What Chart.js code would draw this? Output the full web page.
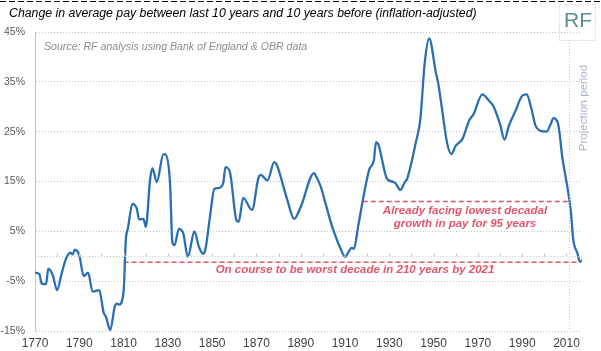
<!DOCTYPE html>
<html lang="en">
<head>
    <meta charset="UTF-8">
    <title>Change in average pay</title>
    <script src="https://cdn.jsdelivr.net/npm/chart.js@4.4.1/dist/chart.umd.min.js"></script>
    <style>
        body{
            margin: 0;
            background-color: #ffffff;
        }
        #payChart {
            display: block;
        }
    </style>
</head>
<body>
    <canvas id="payChart" width="601" height="351"></canvas>
    <script>
        // year of the 10-year window, % change vs the 10 years before
        var years = [1770, 1772, 1773, 1775, 1776, 1778, 1780, 1782, 1784, 1786, 1787, 1788, 1790,
            1792, 1794, 1796, 1799, 1801, 1802, 1804, 1806, 1807, 1808, 1810, 1811, 1812, 1814,
            1816, 1817, 1819, 1820, 1822, 1823, 1825, 1828, 1829, 1831, 1832, 1833, 1835, 1837,
            1839, 1842, 1844, 1846, 1847, 1849, 1851, 1853, 1855, 1856, 1858, 1861, 1862, 1864,
            1868, 1871, 1872, 1875, 1878, 1879, 1884, 1887, 1890, 1896, 1897, 1899, 1901, 1904,
            1905, 1908, 1910, 1913, 1914, 1916, 1919, 1921, 1923, 1924, 1925, 1929, 1932, 1933,
            1935, 1937, 1938, 1942, 1944, 1946, 1948, 1951, 1952, 1954, 1956, 1958, 1960, 1962,
            1963, 1966, 1968, 1972, 1975, 1977, 1980, 1982, 1984, 1987, 1990, 1992, 1994, 1996,
            1998, 2001, 2003, 2004, 2006, 2007, 2008, 2010, 2012, 2013, 2015, 2016, 2017];
        var pay = [-3.3, -3.6, -5.5, -5.6, -2.5, -3.8, -6.8, -3.5, -0.5, 0.7, 0.4, 1.3, 0.2,
            -4.0, -3.3, -7.1, -6.8, -11.3, -12.1, -14.8, -10.1, -9.5, -9.7, -7.1, 3.2, 5.7, 10.5,
            9.5, 7.4, 7.5, 5.9, 15.5, 17.7, 14.9, 20.5, 20.4, 14.5, 2.9, 2.2, 5.5, 4.5,
            -0.1, 5.0, 1.9, 0.5, 1.5, 7.9, 13.5, 13.7, 14.7, 17.9, 16.9, 7.2, 6.9, 11.7,
            9.3, 15.9, 16.3, 15.2, 18.9, 18.5, 11.2, 7.5, 9.9, 16.7, 16.0, 14.0, 10.9, 6.2,
            4.9, 1.5, -0.1, 1.7, 1.5, 6.2, 13.5, 17.5, 19.2, 22.9, 22.5, 15.5, 14.9, 14.5,
            13.3, 14.9, 15.5, 22.9, 27.5, 38.9, 43.7, 36.9, 34.9, 28.9, 22.9, 20.5, 22.2, 23.0,
            23.5, 27.2, 28.5, 32.5, 31.2, 30.1, 26.5, 23.4, 26.2, 29.2, 32.2, 32.5, 29.9, 26.2,
            25.2, 25.0, 26.7, 27.7, 26.9, 24.2, 20.2, 14.9, 8.9, 3.5, 0.5, -1.1, -0.8];

        var xTicks = [1770, 1790, 1810, 1830, 1850, 1870, 1890, 1910, 1930, 1950, 1970, 1990, 2010];
        var yTicks = [-15, -5, 5, 15, 25, 35, 45];

        // reference levels for the two annotations
        var lowest95Years = [1918, 2011];
        var lowest95Level = [11, 11];
        var worst210Years = [1810, 2016];
        var worst210Level = [-1.2, -1.2];
        var projectionStart = 2011;

        var FONT = '"Liberation Sans", Arial, sans-serif';
        var RED = '#e0566c';

        function pairs(xs, ys) {
            return xs.map(function(x, i) { return {x: x, y: ys[i]}; });
        }

        var extras = {
            id: 'extras',
            afterDraw: function(chart) {
                var ctx = chart.ctx;
                var xs = chart.scales.x;
                var ys = chart.scales.y;
                var area = chart.chartArea;
                ctx.save();

                // dashed top edge of the picture
                ctx.strokeStyle = '#000000';
                ctx.lineWidth = 1;
                ctx.setLineDash([6, 3]);
                ctx.beginPath();
                ctx.moveTo(0, 1.5);
                ctx.lineTo(601, 1.5);
                ctx.stroke();

                // zero line with small ticks
                var y0 = Math.round(ys.getPixelForValue(0)) + 0.5;
                ctx.strokeStyle = '#c4c4c4';
                ctx.setLineDash([1, 2]);
                ctx.beginPath();
                ctx.moveTo(area.left, y0);
                ctx.lineTo(area.right, y0);
                ctx.stroke();
                ctx.setLineDash([]);
                ctx.beginPath();
                for (var yr = 1780; yr <= 2010; yr += 10) {
                    var tx = Math.round(xs.getPixelForValue(yr)) + 0.5;
                    ctx.moveTo(tx, y0);
                    ctx.lineTo(tx, y0 - 3);
                }
                ctx.stroke();

                // projection period divider
                var px = Math.round(xs.getPixelForValue(projectionStart)) + 0.5;
                ctx.strokeStyle = '#c4c4c4';
                ctx.setLineDash([1, 2]);
                ctx.beginPath();
                ctx.moveTo(px, 40);
                ctx.lineTo(px, area.bottom);
                ctx.stroke();

                // RF box
                ctx.strokeStyle = '#a9c6c6';
                ctx.strokeRect(559.5, 4.5, 36, 36);
                ctx.setLineDash([]);
                ctx.fillStyle = '#5a8f8f';
                ctx.font = '21px ' + FONT;
                ctx.textAlign = 'center';
                ctx.textBaseline = 'middle';
                ctx.fillText('RF', 578, 21);

                // projection label
                ctx.save();
                ctx.translate(584, 108);
                ctx.rotate(-Math.PI / 2);
                ctx.fillStyle = '#aab3c6';
                ctx.font = '11.5px ' + FONT;
                ctx.fillText('Projection period', 0, 0);
                ctx.restore();

                // title and source
                ctx.textAlign = 'left';
                ctx.fillStyle = '#000000';
                ctx.font = 'italic 12.3px ' + FONT;
                ctx.fillText('Change in average pay between last 10 years and 10 years before (inflation-adjusted)', 9, 14);
                ctx.fillStyle = '#8c8c8c';
                ctx.font = 'italic 10.6px ' + FONT;
                ctx.fillText('Source: RF analysis using Bank of England & OBR data', 44, 47);

                // annotation texts
                ctx.fillStyle = RED;
                ctx.font = 'italic bold 11.5px ' + FONT;
                ctx.textAlign = 'center';
                ctx.fillText('Already facing lowest decadal', 465, 211);
                ctx.fillText('growth in pay for 95 years', 465, 224);
                ctx.fillText('On course to be worst decade in 210 years by 2021', 355, 270);

                ctx.restore();
            }
        };

        new Chart(document.getElementById('payChart'), {
            type: 'line',
            data: {
                datasets: [{
                    data: pairs(years, pay),
                    borderColor: '#2b6fb3',
                    borderWidth: 2.3,
                    pointRadius: 0,
                    cubicInterpolationMode: 'monotone'
                }, {
                    data: pairs(lowest95Years, lowest95Level),
                    borderColor: RED,
                    borderWidth: 1.5,
                    borderDash: [5, 3],
                    pointRadius: 0
                }, {
                    data: pairs(worst210Years, worst210Level),
                    borderColor: RED,
                    borderWidth: 1.5,
                    borderDash: [5, 3],
                    pointRadius: 0
                }]
            },
            options: {
                responsive: false,
                animation: false,
                devicePixelRatio: 1,
                layout: {
                    padding: {top: 32, right: 19, left: 0, bottom: 0}
                },
                plugins: {
                    legend: {display: false},
                    tooltip: {enabled: false}
                },
                scales: {
                    x: {
                        type: 'linear',
                        min: 1770,
                        max: 2017,
                        afterBuildTicks: function(scale) {
                            scale.ticks = xTicks.map(function(v) { return {value: v}; });
                        },
                        afterFit: function(scale) { scale.height = 20; },
                        grid: {display: false, drawTicks: false},
                        border: {display: false},
                        ticks: {
                            maxRotation: 0,
                            autoSkip: false,
                            padding: 5,
                            color: '#404040',
                            font: {family: FONT, size: 12},
                            callback: function(v) { return String(v); }
                        }
                    },
                    y: {
                        min: -15,
                        max: 45,
                        afterBuildTicks: function(scale) {
                            scale.ticks = yTicks.map(function(v) { return {value: v}; });
                        },
                        afterFit: function(scale) { scale.width = 35; },
                        grid: {
                            color: '#c4c4c4',
                            drawTicks: false
                        },
                        border: {
                            display: true,
                            color: '#c4c4c4',
                            dash: [1, 2]
                        },
                        ticks: {
                            padding: 10,
                            color: '#595959',
                            font: {family: FONT, size: 10.5},
                            callback: function(v) { return v + '%'; }
                        }
                    }
                }
            },
            plugins: [extras]
        });
    </script>
</body>
</html>
